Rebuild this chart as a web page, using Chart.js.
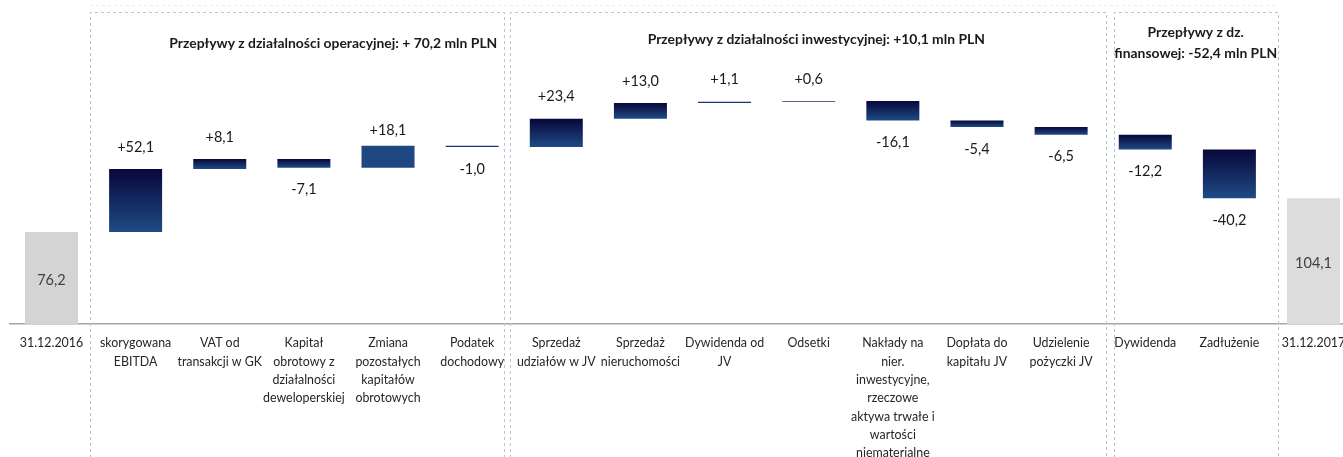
<!DOCTYPE html>
<html>
<head>
<meta charset="utf-8">
<script src="https://cdn.jsdelivr.net/npm/chart.js@4.4.1/dist/chart.umd.min.js"></script>
<style>
    html, body { margin: 0; padding: 0; background: #fff; overflow: hidden; }
    #wrap { position: relative; width: 1366px; height: 457px; }
</style>
</head>
<body>
<div id="wrap"><canvas id="cashflow" width="1366" height="457"></canvas></div>
<script>
// Category labels (multi-line, as on the axis)
const categories = [
    ['31.12.2016'],
    ['skorygowana', 'EBITDA'],
    ['VAT od', 'transakcji w GK'],
    ['Kapitał', 'obrotowy z', 'działalności', 'deweloperskiej'],
    ['Zmiana', 'pozostałych', 'kapitałów', 'obrotowych'],
    ['Podatek', 'dochodowy'],
    ['Sprzedaż', 'udziałów w JV'],
    ['Sprzedaż', 'nieruchomości'],
    ['Dywidenda od', 'JV'],
    ['Odsetki'],
    ['Nakłady na', 'nier.', 'inwestycyjne,', 'rzeczowe', 'aktywa trwałe i', 'wartości', 'niematerialne'],
    ['Dopłata do', 'kapitału JV'],
    ['Udzielenie', 'pożyczki JV'],
    ['Dywidenda'],
    ['Zadłużenie'],
    ['31.12.2017']
];

// Values in mln PLN
const openingBalance = 76.2;
const changes = [52.1, 8.1, -7.1, 18.1, -1.0, 23.4, 13.0, 1.1, 0.6, -16.1, -5.4, -6.5, -12.2, -40.2];
const closingBalance = 104.1;

// Section headings
const sectionTitles = [
    ['Przepływy z działalności operacyjnej: + 70,2 mln PLN'],
    ['Przepływy z działalności inwestycyjnej: +10,1 mln PLN'],
    ['Przepływy z dz.', 'finansowej: -52,4 mln PLN']
];

// Build floating [start, end] ranges for the waterfall
const ranges = [[0, openingBalance]];
const valueLabels = [openingBalance];
let running = openingBalance;
changes.forEach(d => {
    ranges.push([running, running + d]);
    valueLabels.push(d);
    running += d;
});
ranges.push([0, closingBalance]);
valueLabels.push(closingBalance);

const fmt = (v, sign) => (sign && v > 0 ? '+' : '') + v.toFixed(1).replace('.', ',');

function barFill(ctx) {
    const i = ctx.dataIndex;
    if (i === 0) return '#d4d4d4';
    if (i === categories.length - 1) return '#dcdcdc';
    if (i === 4) return '#1f4782';
    const chart = ctx.chart;
    const y = chart.scales && chart.scales.y;
    const r = ctx.raw;
    if (!y || !r) return '#16306a';
    const top = y.getPixelForValue(Math.max(r[0], r[1]));
    const bottom = y.getPixelForValue(Math.min(r[0], r[1]));
    if (!isFinite(top) || bottom - top < 2) return '#1c3470';
    const g = chart.ctx.createLinearGradient(0, top, 0, bottom);
    g.addColorStop(0, '#07073a');
    g.addColorStop(1, '#1f4a85');
    return g;
}

// Dashed section boxes and headings
const sectionPlugin = {
    id: 'sections',
    beforeDatasetsDraw(chart) {
        const { ctx } = chart;
        const x = chart.scales.x;
        const boxes = [[0.458, 5.378], [5.45, 12.53], [12.63, 14.58]];
        ctx.save();
        ctx.lineWidth = 1;
        ctx.setLineDash([3, 3]);
        // faint outer rule above the boxes
        ctx.strokeStyle = '#e8edf2';
        ctx.beginPath();
        ctx.moveTo(Math.round(x.getPixelForValue(0.458)), 5.5);
        ctx.lineTo(Math.round(x.getPixelForValue(14.58)), 5.5);
        ctx.stroke();
        ctx.strokeStyle = '#b7c6d6';
        boxes.forEach(([a, b]) => {
            const l = Math.round(x.getPixelForValue(a)) + 0.5;
            const r = Math.round(x.getPixelForValue(b)) + 0.5;
            ctx.beginPath();
            ctx.moveTo(l, 470);
            ctx.lineTo(l, 12.5);
            ctx.lineTo(r, 12.5);
            ctx.lineTo(r, 470);
            ctx.stroke();
        });
        ctx.restore();

        const heads = [[3.35, [44]], [9.09, [40]], [13.6, [33, 54]]];
        ctx.save();
        ctx.fillStyle = '#1a1a1a';
        ctx.font = 'bold 13.9px Lato';
        ctx.textAlign = 'center';
        ctx.textBaseline = 'middle';
        heads.forEach(([pos, ys], k) => {
            sectionTitles[k].forEach((line, j) => {
                ctx.fillText(line, x.getPixelForValue(pos), ys[j]);
            });
        });
        ctx.restore();
    }
};

// Value labels above / below / inside bars
const valuePlugin = {
    id: 'values',
    afterDatasetsDraw(chart) {
        const { ctx } = chart;
        const meta = chart.getDatasetMeta(0);
        ctx.save();
        ctx.font = '14.5px Lato';
        ctx.textAlign = 'center';
        ctx.textBaseline = 'middle';
        meta.data.forEach((bar, i) => {
            const top = Math.min(bar.y, bar.base);
            const bottom = Math.max(bar.y, bar.base);
            const v = valueLabels[i];
            if (i === 0 || i === meta.data.length - 1) {
                ctx.fillStyle = '#404040';
                ctx.fillText(fmt(v, false), bar.x, (top + bottom) / 2 + 2);
            } else if (v > 0) {
                ctx.fillStyle = '#1a1a1a';
                ctx.fillText(fmt(v, true), bar.x, top - (i === 4 ? 15 : 22));
            } else {
                ctx.fillStyle = '#1a1a1a';
                ctx.fillText(fmt(v, true), bar.x, bottom + 22);
            }
        });
        ctx.restore();
    }
};

new Chart(document.getElementById('cashflow').getContext('2d'), {
    type: 'bar',
    data: {
        labels: categories,
        datasets: [{
            data: ranges,
            backgroundColor: barFill,
            borderWidth: 0,
            barPercentage: 0.63,
            categoryPercentage: 1
        }]
    },
    options: {
        responsive: false,
        animation: false,
        layout: { padding: { left: 9.4, right: 10.4, top: 0, bottom: 0 } },
        scales: {
            x: {
                offset: true,
                grid: { display: false, drawTicks: false },
                border: { display: true, color: '#a6a6a6', width: 1.5 },
                ticks: {
                    autoSkip: false,
                    maxRotation: 0,
                    minRotation: 0,
                    padding: 10,
                    color: '#262626',
                    font: { family: 'Lato', size: 12.4, lineHeight: 1.48 }
                },
                afterFit(scale) { scale.height = 133; }
            },
            y: {
                display: false,
                min: 0,
                max: 268
            }
        },
        plugins: {
            legend: { display: false },
            tooltip: { enabled: false }
        }
    },
    plugins: [sectionPlugin, valuePlugin]
});
</script>
</body>
</html>
